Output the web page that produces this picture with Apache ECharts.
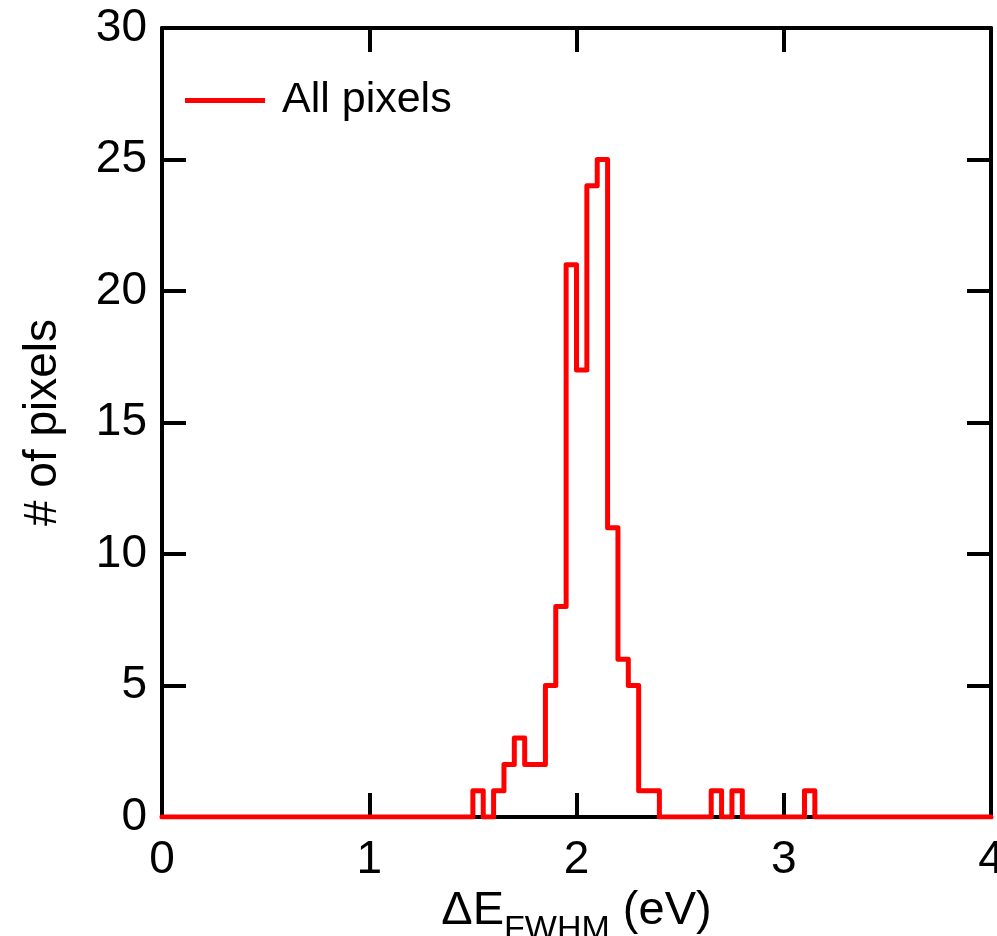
<!DOCTYPE html>
<html>
<head>
<meta charset="utf-8">
<script src="https://cdn.jsdelivr.net/npm/echarts@6/dist/echarts.min.js"></script>
<style>
  html, body { margin: 0; padding: 0; background: #fff; overflow: hidden; }
  #chart { width: 997px; height: 936px; }
</style>
</head>
<body>
<div id="chart"></div>
<script>
// Histogram bin left edges (eV) and counts (last point closes the line at x=4)
const binLeft = [0, 1.50, 1.55, 1.60, 1.65, 1.70, 1.75, 1.80, 1.85, 1.90, 1.95, 2.00, 2.05, 2.10, 2.15, 2.20, 2.25, 2.30, 2.35, 2.40, 2.65, 2.70, 2.75, 2.80, 3.10, 3.15, 4.00];
const counts  = [0, 1, 0, 1, 2, 3, 2, 2, 5, 8, 21, 17, 24, 25, 11, 6, 5, 1, 1, 0, 1, 0, 1, 0, 1, 0, 0];
const seriesName = 'All pixels';
const xTitle = 'ΔE';
const xTitleSub = 'FWHM';
const xTitleUnit = ' (eV)';
const yTitle = '# of pixels';

const FONT = '"Liberation Sans", Arial, Helvetica, sans-serif';
const data = binLeft.map((x, i) => [x, counts[i]]);

const chart = echarts.init(document.getElementById('chart'), null, { renderer: 'canvas' });

const axisLine = { show: true, onZero: false, lineStyle: { color: '#000', width: 4 } };
const axisTick = { show: true, inside: true, length: 24, lineStyle: { color: '#000', width: 4 } };

chart.setOption({
  animation: false,
  backgroundColor: '#fff',
  grid: { left: 162, right: 6, top: 28, bottom: 119, containLabel: false, outerBoundsMode: 'none' },
  legend: {
    show: true,
    left: 185,
    top: 79,
    padding: 0,
    icon: 'rect',
    itemWidth: 80,
    itemHeight: 5,
    textStyle: { fontFamily: FONT, fontSize: 43, color: '#000', padding: [0, 0, 0, 12] },
    data: [seriesName]
  },
  xAxis: [
    {
      type: 'value', min: 0, max: 4, interval: 1, position: 'bottom',
      axisLine, axisTick,
      splitLine: { show: false },
      axisLabel: { fontFamily: FONT, fontSize: 46, color: '#000', margin: 20 },
      name: '{a|' + xTitle + '}{b|' + xTitleSub + '}{a|' + xTitleUnit + '}',
      nameLocation: 'middle',
      nameGap: 56,
      nameTextStyle: {
        rich: {
          a: { fontFamily: FONT, fontSize: 47, color: '#000', lineHeight: 47, verticalAlign: 'top' },
          b: { fontFamily: FONT, fontSize: 34, color: '#000', lineHeight: 34, padding: [25, 0, 0, 0], verticalAlign: 'top' }
        }
      }
    },
    {
      type: 'value', min: 0, max: 4, interval: 1, position: 'top',
      axisLine, axisTick,
      splitLine: { show: false },
      axisLabel: { show: false }
    }
  ],
  yAxis: [
    {
      type: 'value', min: 0, max: 30, interval: 5, position: 'left',
      axisLine, axisTick,
      splitLine: { show: false },
      axisLabel: { fontFamily: FONT, fontSize: 46, color: '#000', margin: 15 },
      name: yTitle,
      nameLocation: 'middle',
      nameRotate: 90,
      nameGap: 96,
      nameTextStyle: { fontFamily: FONT, fontSize: 46, color: '#000' }
    },
    {
      type: 'value', min: 0, max: 30, interval: 5, position: 'right',
      axisLine, axisTick,
      splitLine: { show: false },
      axisLabel: { show: false }
    }
  ],
  series: [
    {
      name: seriesName,
      type: 'line',
      step: 'end',
      data: data,
      showSymbol: false,
      symbol: 'none',
      xAxisIndex: 0,
      yAxisIndex: 0,
      lineStyle: { color: '#ff0000', width: 5, join: 'round', cap: 'round' },
      itemStyle: { color: '#ff0000' },
      z: 5
    }
  ]
});
</script>
</body>
</html>
